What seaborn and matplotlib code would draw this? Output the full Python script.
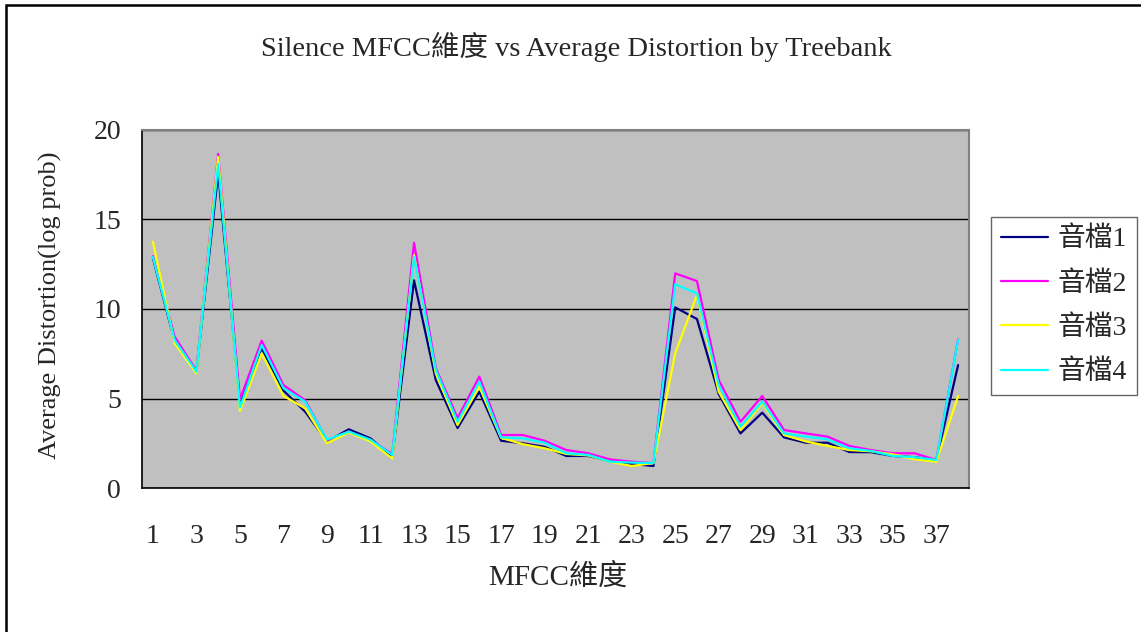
import numpy as np
import pandas as pd
import seaborn as sns
import matplotlib
matplotlib.use("Agg")
import matplotlib.pyplot as plt
from matplotlib.patches import Rectangle
from matplotlib.ticker import FixedLocator

dims = list(range(1, 39))
series_names = ["音檔1", "音檔2", "音檔3", "音檔4"]
file1 = [12.85, 8.2, 6.5, 17.6, 4.7, 7.8, 5.44, 4.26, 2.6, 3.28, 2.77, 1.75, 11.6, 6.03, 3.35, 5.38,
         2.64, 2.5, 2.3, 1.79, 1.79, 1.5, 1.34, 1.23, 10.09, 9.44, 5.25, 3.05, 4.21, 2.83, 2.53, 2.53,
         2.01, 2.0, 1.79, 1.72, 1.57, 6.87]
file2 = [12.95, 8.45, 6.55, 18.66, 4.95, 8.23, 5.75, 4.9, 2.65, 3.15, 2.68, 1.9, 13.7, 6.69, 3.9, 6.22,
         2.96, 2.96, 2.64, 2.12, 1.94, 1.6, 1.47, 1.39, 11.99, 11.56, 6.03, 3.7, 5.14, 3.24, 3.05, 2.87,
         2.35, 2.12, 1.94, 1.94, 1.57, 8.3]
file3 = [13.76, 8.08, 6.4, 18.5, 4.3, 7.52, 5.14, 4.45, 2.5, 3.1, 2.6, 1.65, 13.0, 6.4, 3.52, 5.66,
         2.8, 2.45, 2.22, 1.9, 1.82, 1.47, 1.23, 1.39, 7.52, 10.78, 5.38, 3.24, 4.73, 2.96, 2.6, 2.35,
         2.12, 2.05, 1.88, 1.6, 1.47, 5.14]
file4 = [12.9, 8.27, 6.5, 18.1, 4.5, 7.99, 5.57, 4.82, 2.7, 3.15, 2.7, 1.85, 12.9, 6.6, 3.7, 5.94,
         2.83, 2.77, 2.53, 1.94, 1.85, 1.47, 1.42, 1.39, 11.38, 10.87, 5.75, 3.43, 4.82, 3.05, 2.87, 2.72,
         2.22, 2.07, 1.79, 1.72, 1.57, 8.27]
y_ticks = [0, 5, 10, 15, 20]
x_tick_labels = [str(i) for i in range(1, 39, 2)]

title = "Silence MFCC維度 vs Average Distortion by Treebank"
xlabel = "MFCC維度"
ylabel = "Average Distortion(log prob)"

colors = ["#000080", "#FF00FF", "#FFFF00", "#00FFFF"]

sns.set_style("white")
plt.rcParams["font.family"] = ["Liberation Serif", "Noto Sans CJK TC", "DejaVu Sans"]

frames = []
for name, vals in zip(series_names, [file1, file2, file3, file4]):
    frames.append(pd.DataFrame({"dim": dims, "value": vals, "series": name}))
df = pd.concat(frames, ignore_index=True)

fig = plt.figure(figsize=(11.41, 6.32), dpi=100)
ax = fig.add_axes([142 / 1141, 1 - 488 / 632, 827 / 1141, 358 / 632])
ax.set_facecolor("#C0C0C0")

sns.lineplot(data=df, x="dim", y="value", hue="series", palette=colors,
             hue_order=series_names, linewidth=1.6, ax=ax, legend=True)

ax.set_xlim(0.5, 38.5)
ax.set_ylim(0, 20)
ax.yaxis.set_major_locator(FixedLocator(y_ticks))
ax.set_yticklabels([str(v) for v in y_ticks])
ax.xaxis.set_major_locator(FixedLocator(list(range(1, 39, 2))))
ax.set_xticklabels(x_tick_labels)
ax.xaxis.set_minor_locator(FixedLocator(list(np.arange(1.5, 38.5, 1.0))))
ax.tick_params(axis="x", which="major", length=0, pad=26, labelsize=20)
ax.tick_params(axis="x", which="minor", length=7, width=1, direction="in", color="black")
ax.tick_params(axis="y", which="major", length=0, pad=15, labelsize=20)

ax.grid(axis="y", color="black", linewidth=1)
ax.grid(axis="x", visible=False)
ax.set_axisbelow(True)

for s in ["top", "right"]:
    ax.spines[s].set_color("#808080")
    ax.spines[s].set_linewidth(1.5)
for s in ["left", "bottom"]:
    ax.spines[s].set_color("black")
    ax.spines[s].set_linewidth(1.2)

ax.set_xlabel("")
ax.set_ylabel("")
fig.text(558 / 1141, 1 - 577 / 632, xlabel, ha="center", va="center", fontsize=21)
fig.text(50 / 1141, 1 - 305 / 632, ylabel, ha="center", va="center", rotation=90, fontsize=19)
fig.text(576 / 1141, 1 - 47 / 632, title, ha="center", va="center", fontsize=20.5)

leg = ax.legend(loc="upper left", bbox_to_anchor=(991 / 1141, 1 - 217 / 632),
                bbox_transform=fig.transFigure, frameon=True, fancybox=False,
                fontsize=20, handlelength=1.7, labelspacing=0.67, borderpad=0.35,
                handletextpad=0.35, borderaxespad=0)
leg.get_frame().set_edgecolor("#404040")
leg.get_frame().set_linewidth(1.0)
for line in leg.get_lines():
    line.set_linewidth(1.6)

fig.patches.append(Rectangle((6 / 1141, -0.1), 1.2, 1 - 5 / 632 + 0.1, transform=fig.transFigure,
                             fill=False, edgecolor="black", linewidth=1.8))

fig.savefig("out.png", dpi=100)
